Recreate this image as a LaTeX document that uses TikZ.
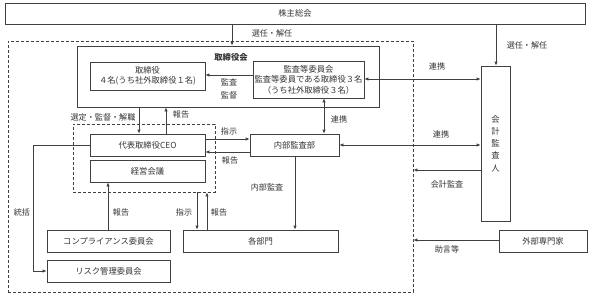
\documentclass[tikz,border=0pt]{standalone}
\usepackage{fontspec}
\setmainfont{Noto Sans CJK JP}
\usetikzlibrary{arrows.meta}
\definecolor{ln}{HTML}{404040}
\definecolor{tx}{HTML}{333333}
\tikzset{
  box/.style={draw=ln, line width=0.8pt, fill=white, inner sep=0pt, align=center, text=tx, font=\fontsize{8.3}{10.5}\selectfont},
  grpbox/.style={draw=ln, line width=0.8pt, dashed, dash pattern=on 3pt off 2pt, inner sep=0pt},
  arr/.style={draw=ln, line width=0.8pt, -{Latex[length=4pt,width=3.5pt]}},
  darr/.style={draw=ln, line width=0.8pt, {Latex[length=4pt,width=3.5pt]}-{Latex[length=4pt,width=3.5pt]}},
  lbl/.style={text=tx, font=\fontsize{8.1}{10}\selectfont, inner sep=0pt},
}
\begin{document}
\begin{tikzpicture}[x=1pt,y=-1pt]
\useasboundingbox (0,0) rectangle (600,300);
% groups
\node[grpbox, minimum width=405pt, minimum height=251pt] (grp) at (210.5,166.5) {};
\node[box, minimum width=580pt, minimum height=21pt] (gm) at (295,13.5) {株主総会};
\node[box, minimum width=302pt, minimum height=61pt] (bod) at (228,76.5) {};
\node[lbl, font=\fontsize{8.3}{10}\selectfont\bfseries] (bodt) at (231,57) {取締役会};
\node[box, minimum width=115pt, minimum height=28pt] (dir) at (147.5,76) {取締役\\４名(うち社外取締役１名)};
\node[box, minimum width=111pt, minimum height=37pt] (ac) at (308.5,79.5) {監査等委員会\\監査等委員である取締役３名\\（うち社外取締役３名）};
\node[box, minimum width=29pt, minimum height=155pt, font=\fontsize{8.3}{12.3}\selectfont] (kaikei) at (495.5,143.5) {会\\計\\監\\査\\人};
\node[box, minimum width=88pt, minimum height=22pt] (gaibu) at (543,241) {外部専門家};
\node[grpbox, minimum width=142pt, minimum height=68pt] (ceog) at (144,158) {};
\node[box, minimum width=115pt, minimum height=22pt] (ceo) at (147.5,145) {代表取締役CEO};
\node[box, minimum width=115pt, minimum height=22pt] (keiei) at (147.5,171) {経営会議};
\node[box, minimum width=89pt, minimum height=22pt] (ia) at (294.5,145) {内部監査部};
\node[box, minimum width=155pt, minimum height=22pt] (dept) at (260.5,241) {各部門};
\node[box, minimum width=123pt, minimum height=22pt] (comp) at (108.5,241) {コンプライアンス委員会};
\node[box, minimum width=123pt, minimum height=22pt] (risk) at (108.5,271) {リスク管理委員会};
\coordinate (c1) at (33,145);
\coordinate (c2) at (33,271);
% connectors
\draw[arr] (232,0 |- gm.south) -- (232,0 |- bod.north);
\draw[arr] (496,0 |- gm.south) -- (496,0 |- kaikei.north);
\draw[arr] (ac.west |- 0,75) -- (dir.east |- 0,75);
\draw[darr] (ac.east |- 0,79) -- (kaikei.west |- 0,79);
\draw[darr] (324,0 |- ac.south) -- (324,0 |- ia.north);
\draw[arr] (139,0 |- bod.south) -- (139,0 |- ceo.north);
\draw[arr] (166,0 |- ceo.north) -- (166,0 |- bod.south);
\draw[arr] (ceo.east |- 0,139) -- (ia.west |- 0,139);
\draw[arr] (ia.west |- 0,152) -- (ceo.east |- 0,152);
\draw[darr] (ia.east) -- (kaikei.west |- ia.east);
\draw[arr] (kaikei.west |- 0,170) -- (grp.east |- 0,170);
\draw[arr] (gaibu.west |- 0,240) -- (grp.east |- 0,240);
\draw[arr] (295,0 |- ia.south) -- (295,0 |- dept.north);
\draw[arr] (197,0 |- ceog.south) -- (197,0 |- dept.north);
\draw[arr] (207,0 |- dept.north) -- (207,0 |- ceog.south);
\draw[arr] (108,0 |- comp.north) -- (108,0 |- keiei.south);
\draw[arr] (ceo.west) -- (c1) -- (c2) -- (risk.west);
% labels
\node[lbl] (l1) at (272,33) {選任・解任};
\node[lbl] (l2) at (527,45) {選任・解任};
\node[lbl] (l3) at (229,82) {監査};
\node[lbl] (l4) at (229,95) {監督};
\node[lbl] (l5) at (437,66) {連携};
\node[lbl] (l6) at (339,119) {連携};
\node[lbl] (l7) at (441,134) {連携};
\node[lbl] (l8) at (103,117) {選定・監督・解職};
\node[lbl] (l9) at (181,114) {報告};
\node[lbl] (l10) at (229,131) {指示};
\node[lbl] (l11) at (230,160) {報告};
\node[lbl] (l12) at (267,187) {内部監査};
\node[lbl] (l13) at (447,184) {会計監査};
\node[lbl] (l14) at (447,249) {助言等};
\node[lbl] (l15) at (184,212) {指示};
\node[lbl] (l16) at (219,212) {報告};
\node[lbl] (l17) at (121,212) {報告};
\node[lbl] (l18) at (22,212) {統括};
\end{tikzpicture}
\end{document}
